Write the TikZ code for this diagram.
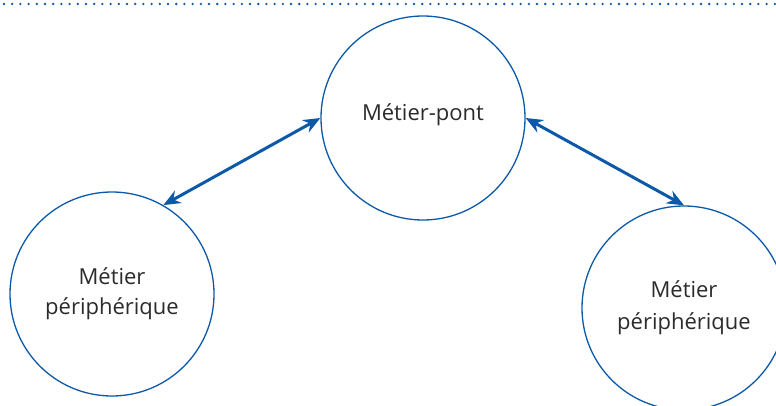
\documentclass[tikz,border=0pt]{standalone}
\usepackage{fontspec}
\setmainfont{Open Sans}
\definecolor{MTblue}{HTML}{0B59A8}
\definecolor{MTtext}{HTML}{2B2B2B}
\usetikzlibrary{arrows.meta, positioning}

\begin{document}
\begin{tikzpicture}[x=1pt, y=1pt,
      metier/.style={circle, draw=MTblue, line width=1.3pt, minimum size=204pt,
         inner sep=0pt, align=center, text=MTtext,
         font=\fontsize{22}{32}\selectfont},
      lien/.style={{Stealth[length=17pt,width=14pt]}-{Stealth[length=17pt,width=14pt]},
         MTblue, line width=3pt}]
      \useasboundingbox (0,0) rectangle (776,405);
      % Top rule
      \draw[MTblue, line width=2.6pt, line cap=round, dash pattern=on 0pt off 8.2pt]
         (4,401) -- (776,401);
      % Circles
      \node[metier] (pont) at (423,287) {\raisebox{12pt}{Métier-pont}};
      \node[metier] (gauche) at (112,111) {\raisebox{-2pt}{Métier}\\périphérique};
      \node[metier] (droite) at (684,97) {Métier\\périphérique};
      % Links
      \draw[lien] (gauche.60) -- (pont.west);
      \draw[lien] (pont.east) -- (droite.north);
   \end{tikzpicture}
\end{document}
